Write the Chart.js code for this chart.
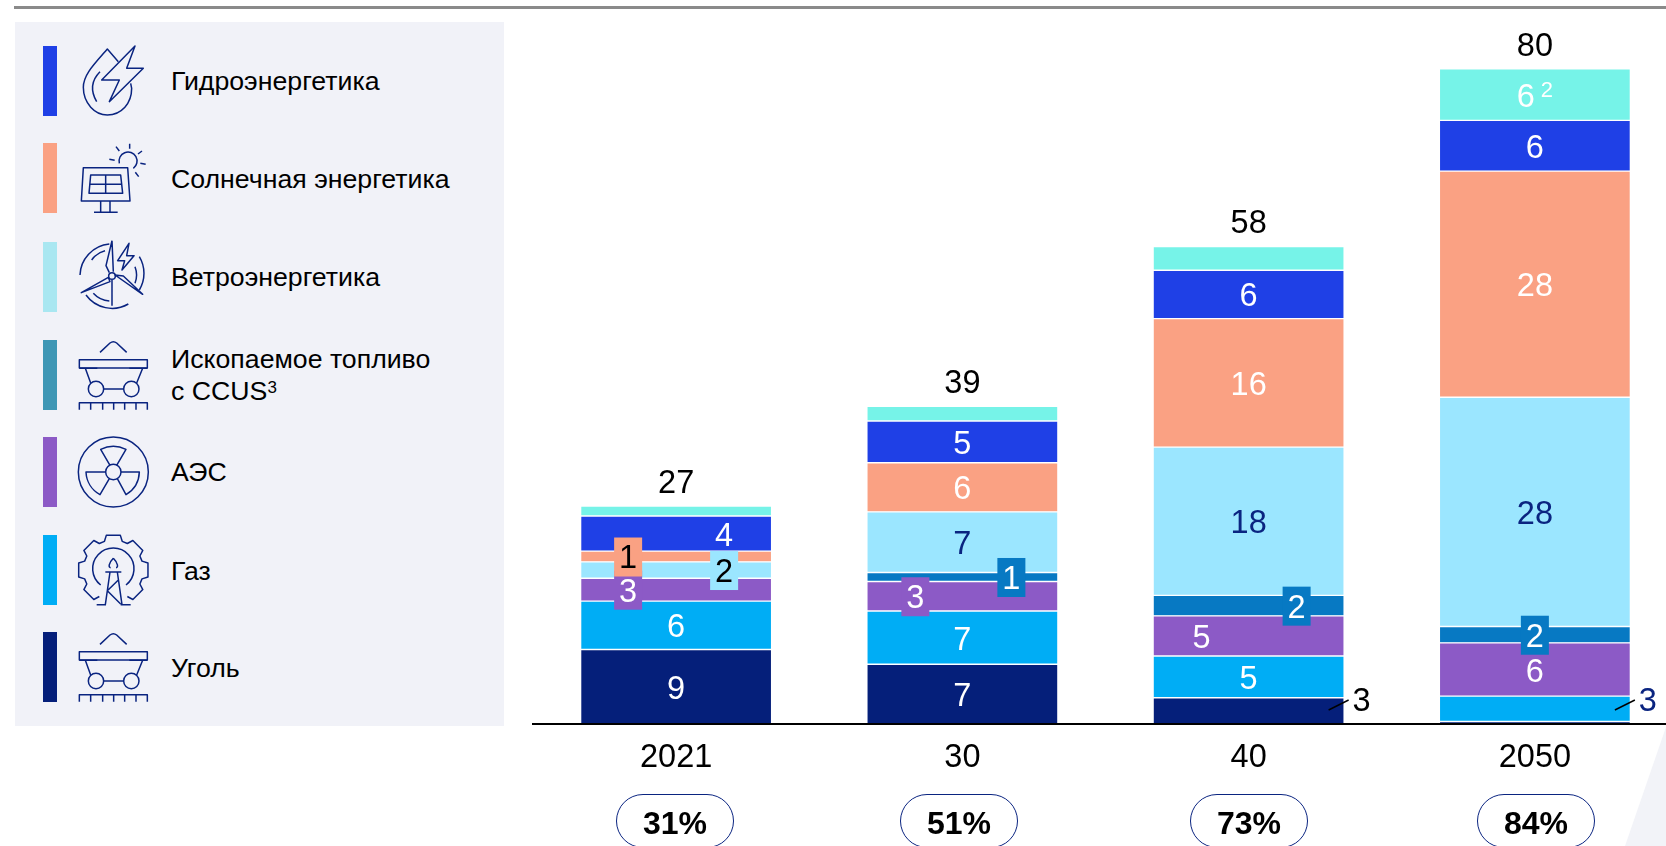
<!DOCTYPE html>
<html lang="ru">
<head>
<meta charset="utf-8">
<title>Chart</title>
<script src="https://cdn.jsdelivr.net/npm/chart.js@4"></script>
<style>
html,body{margin:0;padding:0;background:#fff;width:1666px;height:846px;overflow:hidden;font-family:"Liberation Sans",Arial,sans-serif}
#stage{position:absolute;left:0;top:0;width:1666px;height:846px;overflow:hidden}
#wrap{position:absolute;left:0;top:0;width:1678px;height:846px}
#corner,#icons{position:absolute;left:0;top:0}
#rule{position:absolute;left:14px;top:6px;width:1652px;height:3px;background:#8a8a8a}
#panel{position:absolute;left:15px;top:22px;width:489px;height:704px;background:#f1f2f8}
.sw{position:absolute;left:43px;width:14px;height:70px}
.lg{position:absolute;left:171px;font-size:26.7px;line-height:32px;color:#000;white-space:nowrap}
.lg sup{font-size:17px;line-height:0;vertical-align:7px}
.pill{position:absolute;top:794px;width:116px;height:52px;border:1.5px solid #0a2480;border-radius:28px;text-align:center;font-weight:bold;font-size:32px;line-height:56px;color:#000;box-sizing:content-box}
</style>
</head>
<body>
<div id="stage">
<svg id="corner" width="1666" height="846"><polygon points="1666,727 1625,846 1666,846" fill="#f2f3f8"/></svg>
<div id="rule"></div>
<div id="panel"></div>
<div id="legend"></div>
<svg id="icons" width="1666" height="846" fill="none" stroke="#0a2480" stroke-width="4.5" stroke-linejoin="round"></svg>
<div id="wrap"><canvas id="c"></canvas></div>
<div id="pills"></div>
</div>
<script>
const categories = ['2021', '30', '40', '2050'];
const totals = ['27', '39', '58', '80'];
const shares = ['31%', '51%', '73%', '84%'];

const coal    = [9.1, 7.3, 3.2, 0.3];
const gas     = [5.9, 6.5, 5.1, 3.1];
const nuclear = [2.8, 3.6, 4.9, 6.5];
const ccus    = [0,   1.1, 2.5, 2.0];
const wind    = [2.0, 7.4, 18.1, 28.0];
const solar   = [1.3, 6.0, 15.7, 27.6];
const hydro   = [4.3, 5.1, 5.9, 6.2];
const other   = [1.2, 1.8, 2.9, 6.3];

const coalLabels    = ['9', '7', '3', ''];
const gasLabels     = ['6', '7', '5', '3'];
const nuclearLabels = ['3', '3', '5', '6'];
const ccusLabels    = ['', '1', '2', '2'];
const windLabels    = ['2', '7', '18', '28'];
const solarLabels   = ['1', '6', '16', '28'];
const hydroLabels   = ['4', '5', '6', '6'];
const otherLabels   = ['', '', '', '6'];

const legendNames = ['Гидроэнергетика', 'Солнечная энергетика', 'Ветроэнергетика', 'Ископаемое топливо|с CCUS', 'АЭС', 'Газ', 'Уголь'];

const NAVY = '#0a2480';
const seriesStyle = [
  {label:'Уголь', data:coal, labels:coalLabels, color:'#051f7a', text:'#fff'},
  {label:'Газ', data:gas, labels:gasLabels, color:'#00adf5', text:'#fff'},
  {label:'АЭС', data:nuclear, labels:nuclearLabels, color:'#8c5ac6', text:'#fff'},
  {label:'Ископаемое топливо с CCUS', data:ccus, labels:ccusLabels, color:'#0779c3', text:'#fff'},
  {label:'Ветроэнергетика', data:wind, labels:windLabels, color:'#9be6ff', text:NAVY},
  {label:'Солнечная энергетика', data:solar, labels:solarLabels, color:'#faa183', text:'#fff'},
  {label:'Гидроэнергетика', data:hydro, labels:hydroLabels, color:'#1f40e6', text:'#fff'},
  {label:'Прочее', data:other, labels:otherLabels, color:'#76f3e8', text:'#fff'}
];

// label placement: series index + category index -> offset / box / callout
const placement = {
  '2:0':{dx:-48,box:1}, '5:0':{dx:-48,box:1,text:'#000'}, '4:0':{dx:48,box:1,text:'#000'}, '6:0':{dx:48},
  '2:1':{dx:-47,box:1}, '3:1':{dx:49,box:1},
  '2:2':{dx:-47}, '3:2':{dx:48,box:1},
  '3:3':{box:1}, '7:3':{dx:-9,sup:'2'},
  '0:2':{callout:1,text:'#000'}, '1:3':{callout:1,text:NAVY}
};

const legendLayout = [
  {top:46,  sw:'#1f40e6', y:[81]},
  {top:143, sw:'#faa183', y:[179]},
  {top:242, sw:'#a9e7f1', y:[277]},
  {top:340, sw:'#3f97b5', y:[359,391]},
  {top:437, sw:'#8c5ac6', y:[472]},
  {top:535, sw:'#00adf5', y:[571]},
  {top:632, sw:'#051f7a', y:[668]}
];
const legendEl = document.getElementById('legend');
legendNames.forEach((n,i)=>{
  const l = legendLayout[i];
  const s = document.createElement('div');
  s.className='sw'; s.style.top=l.top+'px'; s.style.background=l.sw; legendEl.appendChild(s);
  n.split('|').forEach((t,j)=>{
    const d=document.createElement('div');
    d.className='lg'; d.style.top=(l.y[j]-16)+'px'; d.textContent=t;
    if(i===3&&j===1){const u=document.createElement('sup');u.textContent='3';d.appendChild(u);}
    legendEl.appendChild(d);
  });
});

const pillCenters=[675,959,1249,1536];
const pillsEl=document.getElementById('pills');
shares.forEach((t,i)=>{
  const p=document.createElement('div');
  p.className='pill'; p.style.left=(pillCenters[i]-59)+'px'; p.textContent=t; pillsEl.appendChild(p);
});

// icons (drawn in a 3x grid)
const cart='<path d="M300,733L330,705Q340,697 350,705L380,733"/><rect x="238" y="755" width="204" height="25"/><path d="M238,781H292M388,781H442M256,781L272,825M428,781L410,825M311,843H371"/><circle cx="288" cy="843" r="23"/><circle cx="394" cy="843" r="23"/><path d="M238,905V884H442V905M272,884V905M308,884V905M341,884V905M374,884V905M408,884V905"/>';
let gear='';
(function(){
  const cx=340,cy=510,R=106,r=90,n=8;
  const pts=[];
  for(let k=0;k<n;k++){
    const a0=-Math.PI/2+k*2*Math.PI/n;
    [[-.30,r],[-.2,R],[.2,R],[.30,r]].forEach(o=>{
      const a=a0+o[0];pts.push([cx+o[1]*Math.cos(a),cy+o[1]*Math.sin(a)]);
    });
  }
  const start=16;
  const ordered=[];
  for(let k=0;k<pts.length-4;k++){ordered.push(pts[(start+4+k)%pts.length]);}
  gear='<path d="M'+ordered.map(p=>p[0].toFixed(1)+','+p[1].toFixed(1)).join('L')+'"/>';
})();
document.getElementById('icons').innerHTML=
 '<g transform="scale(.33333)">'+
 '<path d="M355,185L322,147C280,195 250,225 250,262C250,310 285,345 322,345C365,345 395,310 395,265L392,250"/><path d="M300,215C275,240 270,270 290,305"/><path d="M405,138L305,240H358L328,305L430,205H380Z"/>'+
 '<path d="M250,503H383L390,603H244Z"/><path d="M272,525H362L368,580H267ZM270,553H365M317,525V580M302,603V637M330,603V637M282,637H353"/><path d="M358,490A27,27 0 1 1 400,505M348,440L358,453M389,431V446M426,453L414,462M421,490L437,493M406,517L416,530M328,478L344,481"/>'+
 '<path d="M336,840V917M336,722L318,797L328,818M336,722L340,815M244,878L325,832L330,845ZM428,883L345,825L370,828Z"/><circle cx="336" cy="828" r="10"/><path d="M240,825A97,97 0 0 1 328,732M418,770A97,97 0 0 1 418,870M258,885A97,97 0 0 0 385,912M275,780A70,70 0 0 1 315,752M405,800A70,70 0 0 1 405,850M280,880A70,70 0 0 0 328,903"/><path d="M387,730L353,782H374L366,810L402,767H380Z"/>'+
 '</g>'+
 '<g transform="translate(0,108) scale(.33333)">'+cart+'</g>'+
 '<g transform="translate(0,400) scale(.33333)">'+cart+
 '<circle cx="340" cy="216" r="105"/><circle cx="340" cy="216" r="23"/><path d="M330,196L302,148A85,85 0 0 1 378,148L350,196M317,216H258A82,82 0 0 0 300,284L328,236M363,216H418A82,82 0 0 1 378,284L352,236"/>'+
 gear+
 '<path d="M302,555A62,62 0 1 1 378,555M340,475C325,490 325,503 332,503M340,475C355,490 355,503 348,503M316,516H364M330,516L316,614M352,516L366,614M355,540L322,572L362,612M290,614H318M362,614H392"/>'+
 '</g>';

const FONT='"Liberation Sans", Arial, sans-serif';
const VALUE_FONT='32.5px '+FONT;
const PX_PER_UNIT=8.19, Y_MAX=85, BASE=724;

const labelPlugin={
  id:'labelPlugin',
  afterDatasetsDraw(chart){
    const ctx=chart.ctx;
    ctx.save();
    ctx.textAlign='center'; ctx.textBaseline='middle';
    ctx.font=VALUE_FONT;
    seriesStyle.forEach((s,si)=>{
      const meta=chart.getDatasetMeta(si);
      s.labels.forEach((t,ci)=>{
        if(!t) return;
        const el=meta.data[ci], p=placement[si+':'+ci]||{};
        const mid=(el.y+el.base)/2, cx=el.x+(p.dx||0);
        let tx=cx, ty=mid+3;
        if(p.box){
          ctx.fillStyle=s.color;
          ctx.fillRect(cx-14,mid-19,28,39);
        }
        if(p.callout){
          tx=el.x+113; ty=BASE-22;
          ctx.strokeStyle='#000'; ctx.lineWidth=1.5;
          ctx.beginPath();
          ctx.moveTo(el.x+80,BASE-14);
          ctx.lineTo(el.x+100,BASE-24);
          ctx.stroke();
        }
        ctx.fillStyle=p.text||s.text;
        ctx.fillText(t,tx,ty);
        if(p.sup){
          ctx.font='22px '+FONT;
          ctx.fillText(p.sup,tx+21,ty-7);
          ctx.font=VALUE_FONT;
        }
      });
    });
    ctx.fillStyle='#000';
    const last=seriesStyle.length-1;
    totals.forEach((t,ci)=>{
      const el=chart.getDatasetMeta(last).data[ci];
      ctx.fillText(t,el.x,el.y-22);
    });
    ctx.restore();
  }
};

new Chart(document.getElementById('c'),{
  type:'bar',
  data:{
    labels:categories,
    datasets:seriesStyle.map(s=>({
      label:s.label,
      data:s.data,
      backgroundColor:s.color,
      borderColor:'#ffffff',
      borderWidth:1,
      borderSkipped:false,
      barThickness:191
    }))
  },
  options:{
    responsive:true,
    maintainAspectRatio:false,
    animation:false,
    layout:{padding:{left:533,right:0,top:BASE-Y_MAX*PX_PER_UNIT,bottom:0}},
    plugins:{legend:{display:false},tooltip:{enabled:false}},
    scales:{
      x:{
        stacked:true,
        afterFit(scale){scale.height=846-BASE;},
        grid:{display:false},
        border:{display:true,color:'#000',width:2,z:1},
        ticks:{color:'#000',font:{family:FONT,size:32.5},padding:7,maxRotation:0}
      },
      y:{
        stacked:true,
        display:false,
        min:0,
        max:Y_MAX
      }
    }
  },
  plugins:[labelPlugin]
});
</script>
</body>
</html>
